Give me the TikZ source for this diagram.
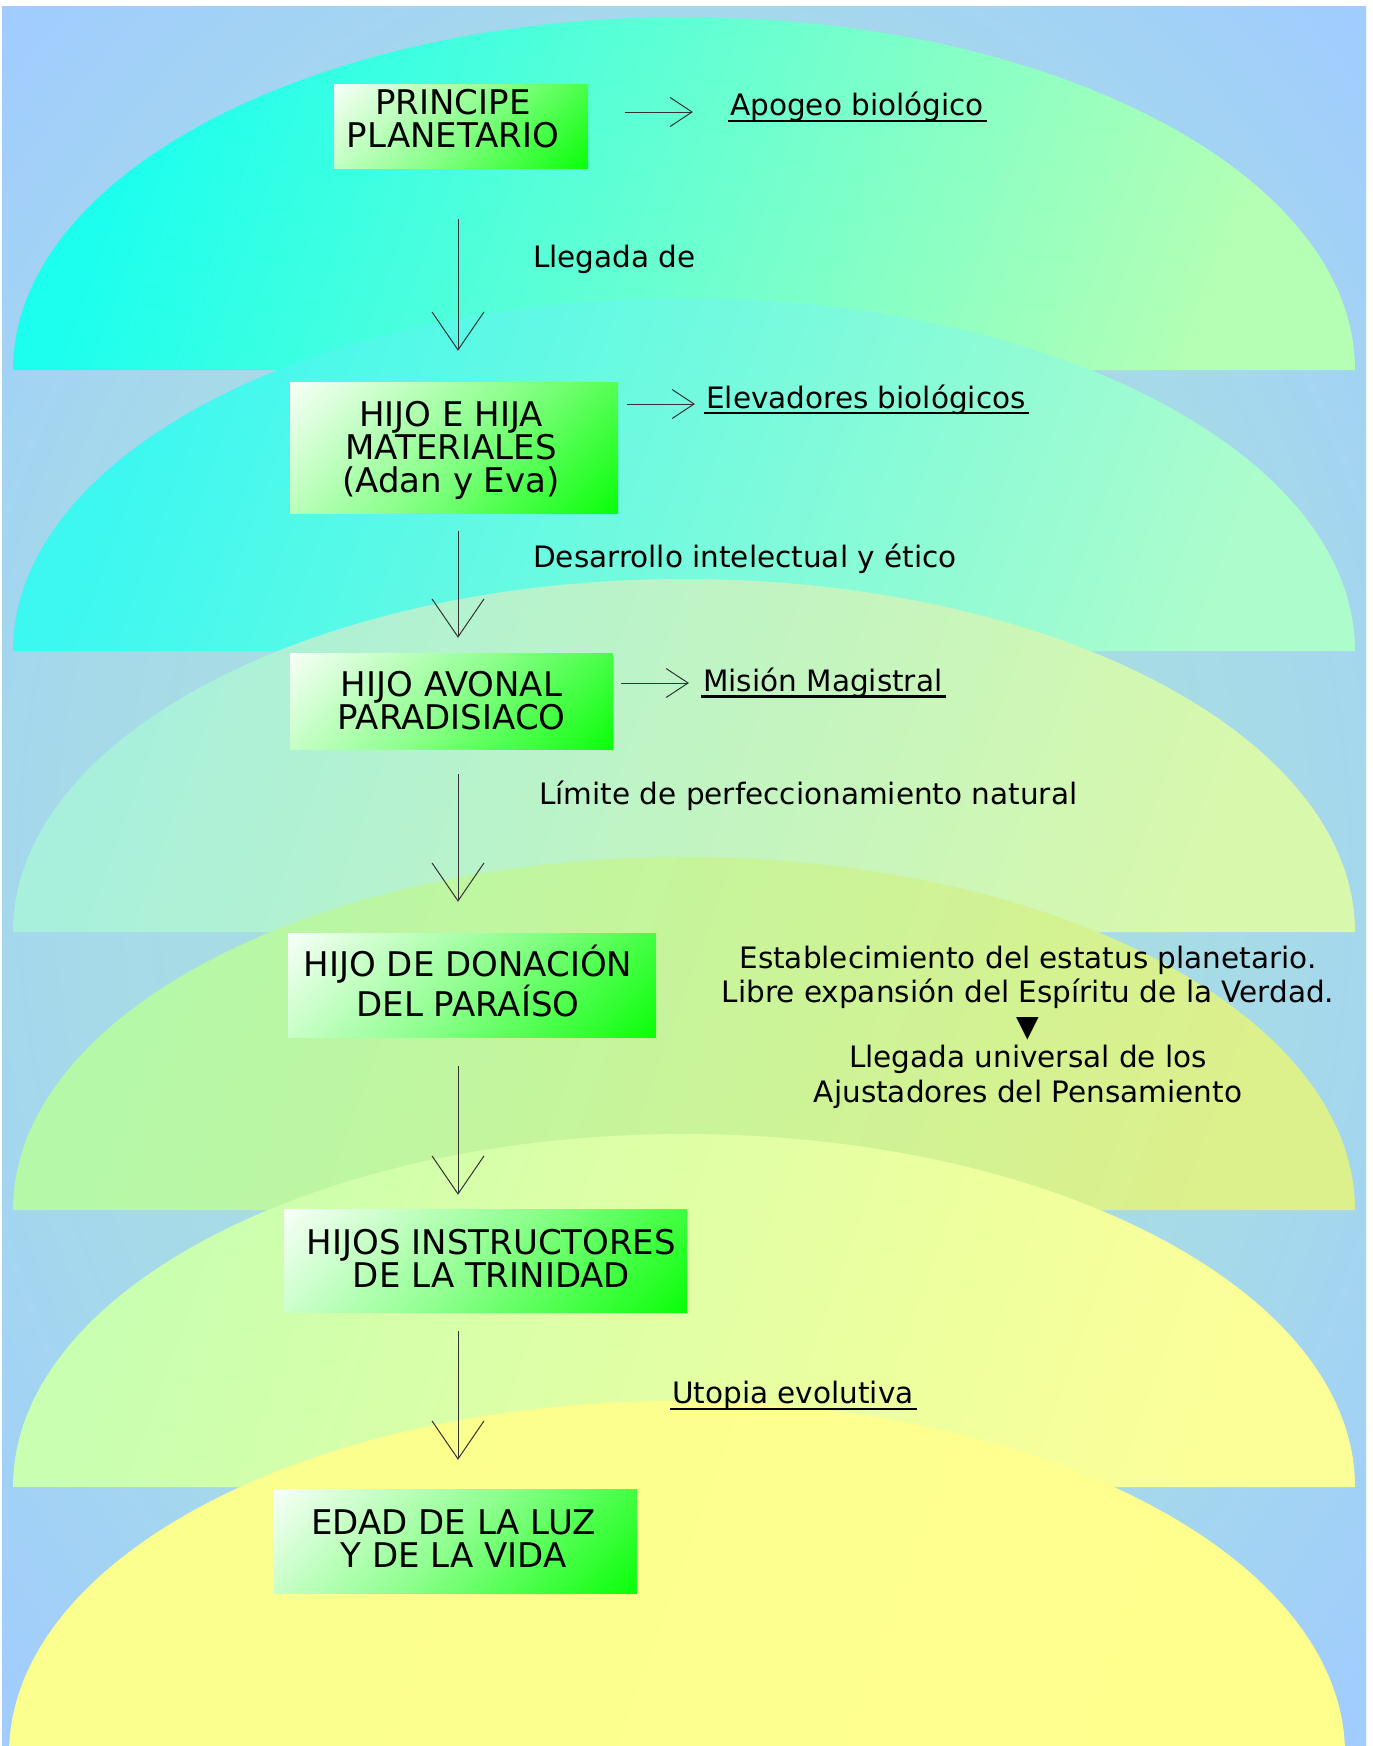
\documentclass[tikz,border=0pt]{standalone}
\usepackage{fontspec}
\setmainfont{DejaVu Sans}
\usetikzlibrary{arrows.meta,calc}
\definecolor{bgin}{HTML}{AAE2DA}
\definecolor{bgmid}{HTML}{A6DAE8}
\definecolor{bgout}{HTML}{A0CCFF}
\definecolor{sAl}{HTML}{1CFFEE}\definecolor{sAr}{HTML}{B4FFB4}
\definecolor{sBl}{HTML}{3CF8F0}\definecolor{sBr}{HTML}{ACFCCC}
\definecolor{sCl}{HTML}{A8F0DC}\definecolor{sCr}{HTML}{D8F8AC}
\definecolor{sDl}{HTML}{B4F8A8}\definecolor{sDr}{HTML}{DCF08C}
\definecolor{sEl}{HTML}{C8FFB0}\definecolor{sEr}{HTML}{FCFF98}
\definecolor{sFl}{HTML}{FAFF8E}\definecolor{sFr}{HTML}{FFFF8E}
\definecolor{boxmid}{HTML}{8CFF8C}
\definecolor{boxgreen}{HTML}{00FF00}
\pgfdeclareradialshading{bgshade}{\pgfpoint{0bp}{0bp}}{color(0bp)=(bgin); color(22bp)=(bgmid); color(35bp)=(bgout); color(50bp)=(bgout)}
\pgfdeclareverticalshading{boxshade}{100bp}{color(0bp)=(boxgreen); color(12bp)=(boxgreen); color(50bp)=(boxmid); color(88bp)=(white); color(100bp)=(white)}
\tikzset{
  band/.style={shading angle=70},
  boxbg/.style={rectangle, inner sep=0pt, shading=boxshade, shading angle=45},
  boxtxt/.style={inner sep=0pt, align=center, text=black,
    font=\fontsize{34}{33}\selectfont},
  lbl/.style={inner sep=0pt, text=black, font=\fontsize{29.5}{33}\selectfont},
  varrow/.style={draw=black!80, line width=1pt, -{Straight Barb[length=38pt,width=52pt]}},
  harrow/.style={draw=black!80, line width=1pt, -{Straight Barb[length=22pt,width=29pt]}},
  uline/.style={draw=black, line width=2.5pt}
}
\begin{document}
\begin{tikzpicture}[x=1pt,y=-1pt]
\useasboundingbox (0,0) rectangle (1373,1746);
\fill[white] (0,0) rectangle (1373,1746);
\shade[shading=bgshade] (2,6) rectangle (1366,1746);
% bands
\shade[left color=sAl, right color=sAr, band] (13,370) arc[start angle=180,end angle=0,x radius=671pt,y radius=353pt] -- cycle;
\shade[left color=sBl, right color=sBr, band] (13,651) arc[start angle=180,end angle=0,x radius=671pt,y radius=353pt] -- cycle;
\shade[left color=sCl, right color=sCr, band] (13,932) arc[start angle=180,end angle=0,x radius=671pt,y radius=353pt] -- cycle;
\shade[left color=sDl, right color=sDr, band] (13,1210) arc[start angle=180,end angle=0,x radius=671pt,y radius=353pt] -- cycle;
\shade[left color=sEl, right color=sEr, band] (13,1487) arc[start angle=180,end angle=0,x radius=671pt,y radius=353pt] -- cycle;
\shade[left color=sFl, right color=sFr, band] (9,1754) arc[start angle=180,end angle=0,x radius=668pt,y radius=353pt] -- cycle;
% boxes
\node[boxbg, minimum width=254pt, minimum height=84pt] (b1) at (461,126) {};
\node[boxbg, minimum width=328pt, minimum height=131pt] (b2) at (454,447.5) {};
\node[boxbg, minimum width=323pt, minimum height=96pt] (b3) at (451.5,701) {};
\node[boxbg, minimum width=368pt, minimum height=104pt] (b4) at (472,985) {};
\node[boxbg, minimum width=403pt, minimum height=103pt] (b5) at (485.5,1260.5) {};
\node[boxbg, minimum width=363pt, minimum height=104pt] (b6) at (455.5,1541) {};
\node[boxtxt] (b1t) at ($(b1)+(-8,-7)$) {PRINCIPE\\PLANETARIO};
\node[boxtxt] (b2t) at ($(b2)+(-3,3)$) {HIJO E HIJA\\MATERIALES\\(Adan y Eva)};
\node[boxtxt] (b3t) at ($(b3)+(0,0)$) {HIJO AVONAL\\PARADISIACO};
\node[boxtxt] (b4t) at ($(b4)+(-4,-4)$) {HIJO DE DONACIÓN\\DEL PARAÍSO};
\node[boxtxt] (b5t) at ($(b5)+(6,-2)$) {HIJOS INSTRUCTORES\\DE LA TRINIDAD};
\node[boxtxt] (b6t) at ($(b6)+(-2,-2)$) {EDAD DE LA LUZ\\Y DE LA VIDA};
% labels
\node[lbl, anchor=base west] (apo) at (730,115) {Apogeo biológico};
\node[lbl, anchor=base west] (lleg) at (533,267) {Llegada de};
\node[lbl, anchor=base west] (elev) at (706,408) {Elevadores biológicos};
\node[lbl, anchor=base west] (desa) at (533,567) {Desarrollo intelectual y ético};
\node[lbl, anchor=base west] (mis) at (703,691) {Misión Magistral};
\node[lbl, anchor=base west] (lim) at (539,804) {Límite de perfeccionamiento natural};
\node[lbl, anchor=base] (est1) at (1028,968) {Establecimiento del estatus planetario.};
\node[lbl, anchor=base] (est2) at (1028,1002) {Libre expansión del Espíritu de la Verdad.};
\node[lbl, anchor=base] (tri) at (1028,1036) {▼};
\node[lbl, anchor=base] (ll1) at (1028,1067) {Llegada universal de los};
\node[lbl, anchor=base] (ll2) at (1028,1102) {Ajustadores del Pensamiento};
\node[lbl, anchor=base west] (utop) at (672,1403) {Utopia evolutiva};
% underlines
\draw[uline] ($(apo.base west)+(-2,6)$) -- ($(apo.base east)+(3,6)$);
\draw[uline] ($(elev.base west)+(-2,5)$) -- ($(elev.base east)+(3,5)$);
\draw[uline] ($(mis.base west)+(-2,5.5)$) -- ($(mis.base east)+(3,5.5)$);
\draw[uline] ($(utop.base west)+(-2,6)$) -- ($(utop.base east)+(3,6)$);
% vertical arrows
\coordinate (ax) at (458,0);
\draw[varrow] ($(b1.south -| ax)+(0,51)$) -- ($(b2.north -| ax)+(0,-31)$);
\draw[varrow] ($(b2.south -| ax)+(0,18)$) -- ($(b3.north -| ax)+(0,-15)$);
\draw[varrow] ($(b3.south -| ax)+(0,25)$) -- ($(b4.north -| ax)+(0,-31)$);
\draw[varrow] ($(b4.south -| ax)+(0,29)$) -- ($(b5.north -| ax)+(0,-14)$);
\draw[varrow] ($(b5.south -| ax)+(0,19)$) -- ($(b6.north -| ax)+(0,-29)$);
% horizontal arrows
\draw[harrow] ($(b1.east |- apo.base)+(37,-3)$) -- ($(apo.base west)+(-37,-3)$);
\draw[harrow] ($(b2.east |- elev.base)+(9,-4)$) -- ($(elev.base west)+(-11,-4)$);
\draw[harrow] ($(b3.east |- mis.base)+(8,-8)$) -- ($(mis.base west)+(-14,-8)$);
\end{tikzpicture}
\end{document}
